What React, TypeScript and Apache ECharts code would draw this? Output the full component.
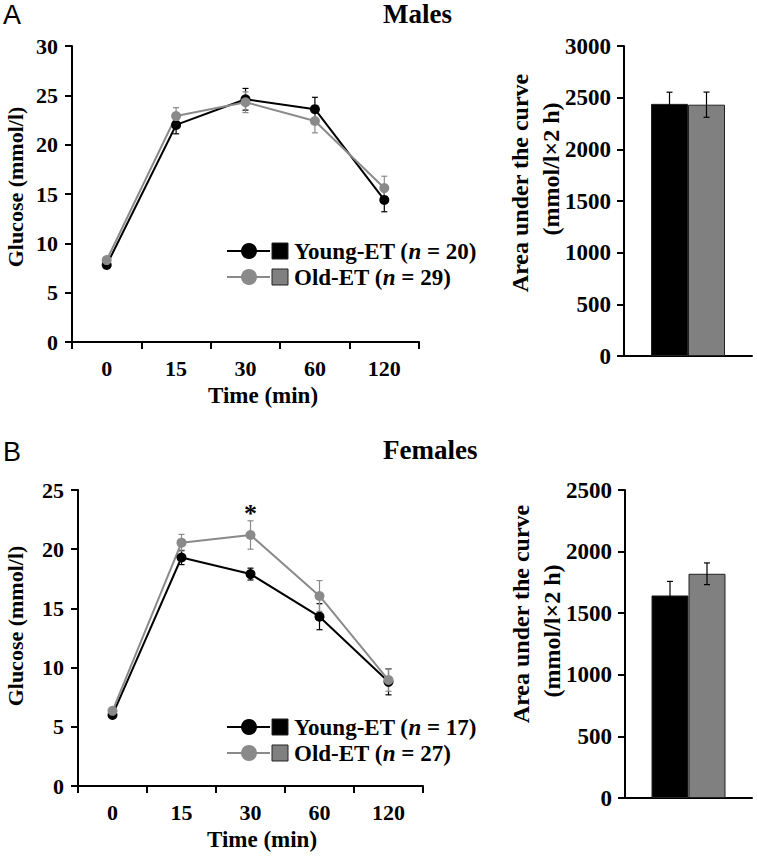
import React, { useEffect, useRef } from 'react';
import * as echarts from 'echarts';

const timeLabels = ['0', '15', '30', '60', '120'];
const malesYoung = [7.8, 22.0, 24.6, 23.6, 14.4];
const malesYoungErr = [0.3, 0.9, 1.1, 1.2, 1.2];
const malesOld = [8.3, 22.9, 24.3, 22.4, 15.6];
const malesOldErr = [0.3, 0.85, 1.05, 1.2, 1.2];
const femalesYoung = [6.0, 19.3, 17.9, 14.3, 8.8];
const femalesYoungErr = [0.2, 0.6, 0.5, 1.1, 1.1];
const femalesOld = [6.35, 20.55, 21.2, 16.05, 8.95];
const femalesOldErr = [0.2, 0.7, 1.2, 1.3, 0.95];
const malesAuc = [2440, 2432];
const malesAucErr = [113, 122];
const femalesAuc = [1644, 1820];
const femalesAucErr = [114, 88];
const malesN = [20, 29];
const femalesN = [17, 27];

const SERIF = 'Liberation Serif';
const BLACK = '#000000';
const GRAY = '#8a8a8a';
const BAR_GRAY = '#808080';
const BAR_W = 37;

const errRender = (color: string, offset: number) => (params: any, api: any) => {
  const x = api.value(0);
  const v = api.value(1);
  const e = api.value(2);
  const top = api.coord([x, v + e]);
  const bot = api.coord([x, v - e]);
  const cx = top[0] + offset;
  const hw = 3;
  const st = { stroke: color, lineWidth: 1.2 };
  return {
    type: 'group',
    children: [
      { type: 'line', shape: { x1: cx, y1: top[1], x2: cx, y2: bot[1] }, style: st },
      { type: 'line', shape: { x1: cx - hw, y1: top[1], x2: cx + hw, y2: top[1] }, style: st },
      { type: 'line', shape: { x1: cx - hw, y1: bot[1], x2: cx + hw, y2: bot[1] }, style: st },
    ],
  };
};

const errData = (vals: number[], errs: number[]) => vals.map((v, i) => [i, v, errs[i]]);

const axisLineStyle = { color: BLACK, width: 2 };

function lineAxes(gridIndex: number, max: number) {
  const x = {
    type: 'category',
    gridIndex,
    data: timeLabels,
    boundaryGap: true,
    axisLine: { lineStyle: axisLineStyle },
    axisTick: { show: true, length: 7, lineStyle: { width: 2, color: BLACK } },
    axisLabel: { color: BLACK, fontFamily: SERIF, fontWeight: 'bold', fontSize: 22, margin: 15 },
  };
  const y = {
    type: 'value',
    gridIndex,
    min: 0,
    max,
    interval: 5,
    splitLine: { show: false },
    axisLine: { show: true, lineStyle: axisLineStyle },
    axisTick: { show: true, length: 7, lineStyle: { width: 2, color: BLACK } },
    axisLabel: { color: BLACK, fontFamily: SERIF, fontWeight: 'bold', fontSize: 22, margin: 14 },
  };
  return { x, y };
}

function barAxes(gridIndex: number, max: number) {
  const x = {
    type: 'category',
    gridIndex,
    data: [''],
    axisLine: { lineStyle: axisLineStyle },
    axisTick: { show: false },
    axisLabel: { show: false },
  };
  const y = {
    type: 'value',
    gridIndex,
    min: 0,
    max,
    interval: 500,
    splitLine: { show: false },
    axisLine: { show: true, lineStyle: axisLineStyle },
    axisTick: { show: true, length: 7, lineStyle: { width: 2, color: BLACK } },
    axisLabel: {
      color: BLACK,
      fontFamily: SERIF,
      fontWeight: 'bold',
      fontSize: 23,
      margin: 13,
      formatter: (v: number) => String(v),
    },
  };
  return { x, y };
}

function lineSeries(idx: number, data: number[], color: string, name: string) {
  return {
    type: 'line',
    name,
    xAxisIndex: idx,
    yAxisIndex: idx,
    data,
    symbol: 'circle',
    symbolSize: 10,
    itemStyle: { color },
    lineStyle: { color, width: 2 },
    z: 3,
  };
}

function errSeries(idx: number, vals: number[], errs: number[], color: string, offset = 0) {
  return {
    type: 'custom',
    xAxisIndex: idx,
    yAxisIndex: idx,
    data: errData(vals, errs),
    encode: { x: 0, y: 1 },
    renderItem: errRender(color, offset),
    z: 2,
  };
}

function barSeries(idx: number, value: number, color: string, name: string) {
  return {
    type: 'bar',
    name,
    xAxisIndex: idx,
    yAxisIndex: idx,
    data: [value],
    barWidth: BAR_W,
    barGap: '0%',
    itemStyle: { color, borderColor: '#222', borderWidth: 1 },
    z: 2,
  };
}

function legendGroup(top: number, n: number[]) {
  const rowGap = 26;
  const rows = [
    { color: BLACK, fill: BLACK, label: 'Young-ET', n: n[0] },
    { color: GRAY, fill: BAR_GRAY, label: 'Old-ET', n: n[1] },
  ];
  const children: any[] = [];
  rows.forEach((r, i) => {
    const y = top + i * rowGap;
    children.push({ type: 'line', shape: { x1: 227, y1: y, x2: 270, y2: y }, style: { stroke: r.color, lineWidth: 2 } });
    children.push({ type: 'circle', shape: { cx: 249, cy: y, r: 8 }, style: { fill: r.color } });
    children.push({ type: 'rect', shape: { x: 272, y: y - 8, width: 16, height: 16 }, style: { fill: r.fill, stroke: '#222', lineWidth: 1 } });
    children.push({
      type: 'text',
      x: 294,
      y,
      style: {
        text: `{a|${r.label} (}{b|n}{a| = ${r.n})}`,
        verticalAlign: 'middle',
        align: 'left',
        rich: {
          a: { fontFamily: SERIF, fontWeight: 'bold', fontSize: 23, fill: BLACK },
          b: { fontFamily: SERIF, fontWeight: 'bold', fontStyle: 'italic', fontSize: 23, fill: BLACK },
        },
      },
    });
  });
  return { type: 'group', children };
}

function txt(text: string, x: number, y: number, size: number, opts: any = {}) {
  return {
    type: 'text',
    x,
    y,
    rotation: opts.rotation || 0,
    style: {
      text,
      fontFamily: opts.family || SERIF,
      fontWeight: opts.weight || 'bold',
      fontSize: size,
      fill: BLACK,
      align: opts.align || 'center',
      verticalAlign: 'middle',
    },
  };
}

export default function App() {
  const ref = useRef<HTMLDivElement>(null);
  useEffect(() => {
    if (!ref.current) return;
    const chart = echarts.init(ref.current, undefined, { renderer: 'svg' });
    const a1 = lineAxes(0, 30);
    const a2 = barAxes(1, 3000);
    const b1 = lineAxes(2, 25);
    const b2 = barAxes(3, 2500);
    const R = Math.PI / 2;
    chart.setOption({
      animation: false,
      backgroundColor: '#ffffff',
      grid: [
        { left: 72, top: 46, width: 347, height: 296 },
        { left: 624, top: 46, width: 128, height: 310 },
        { left: 78, top: 490, width: 345, height: 296 },
        { left: 625, top: 490, width: 127, height: 308 },
      ],
      xAxis: [a1.x, a2.x, b1.x, b2.x],
      yAxis: [a1.y, a2.y, b1.y, b2.y],
      series: [
        errSeries(0, malesYoung, malesYoungErr, BLACK),
        errSeries(0, malesOld, malesOldErr, GRAY),
        lineSeries(0, malesYoung, BLACK, 'Young-ET'),
        lineSeries(0, malesOld, GRAY, 'Old-ET'),
        barSeries(1, malesAuc[0], BLACK, 'Young-ET'),
        barSeries(1, malesAuc[1], BAR_GRAY, 'Old-ET'),
        { ...errSeries(1, [malesAuc[0]], [malesAucErr[0]], BLACK, -BAR_W / 2), z: 4 },
        { ...errSeries(1, [malesAuc[1]], [malesAucErr[1]], BLACK, BAR_W / 2), z: 4 },
        errSeries(2, femalesYoung, femalesYoungErr, BLACK),
        errSeries(2, femalesOld, femalesOldErr, GRAY),
        lineSeries(2, femalesYoung, BLACK, 'Young-ET'),
        {
          ...lineSeries(2, femalesOld, GRAY, 'Old-ET'),
          markPoint: {
            symbol: 'circle',
            symbolSize: 0,
            data: [{ coord: [2, femalesOld[2] + femalesOldErr[2]] }],
            label: {
              show: true,
              formatter: '*',
              position: 'top',
              distance: -6,
              color: BLACK,
              fontFamily: SERIF,
              fontWeight: 'bold',
              fontSize: 26,
            },
          },
        },
        barSeries(3, femalesAuc[0], BLACK, 'Young-ET'),
        barSeries(3, femalesAuc[1], BAR_GRAY, 'Old-ET'),
        { ...errSeries(3, [femalesAuc[0]], [femalesAucErr[0]], BLACK, -BAR_W / 2), z: 4 },
        { ...errSeries(3, [femalesAuc[1]], [femalesAucErr[1]], BLACK, BAR_W / 2), z: 4 },
      ],
      graphic: [
        txt('A', 3, 15, 27, { family: 'Liberation Sans', weight: 'normal', align: 'left' }),
        txt('B', 3, 452, 27, { family: 'Liberation Sans', weight: 'normal', align: 'left' }),
        txt('Males', 383, 14, 27, { align: 'left' }),
        txt('Females', 383, 450, 27, { align: 'left' }),
        txt('Glucose (mmol/l)', 15, 187, 22, { rotation: R }),
        txt('Glucose (mmol/l)', 15, 626, 22, { rotation: R }),
        txt('Time (min)', 263, 395, 23),
        txt('Time (min)', 262, 839, 23),
        txt('Area under the curve', 520, 183, 24, { rotation: R }),
        txt('(mmol/l×2 h)', 551, 169, 24, { rotation: R }),
        txt('Area under the curve', 521, 614, 24, { rotation: R }),
        txt('(mmol/l×2 h)', 552, 631, 24, { rotation: R }),
        legendGroup(251, malesN),
        legendGroup(727, femalesN),
      ],
    });
    return () => chart.dispose();
  }, []);
  return <div ref={ref} style={{ position: 'fixed', left: 0, top: 0, width: 757, height: 857, background: '#fff' }} />;
}
